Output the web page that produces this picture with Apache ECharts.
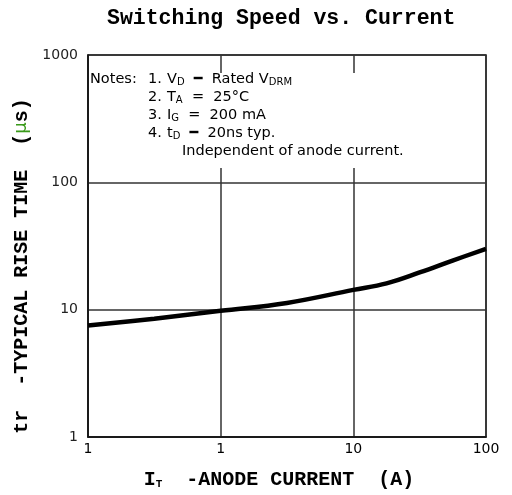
<!DOCTYPE html>
<html>
<head>
<meta charset="utf-8">
<script src="https://cdn.jsdelivr.net/npm/echarts@6/dist/echarts.min.js"></script>
<style>
  html, body { margin: 0; padding: 0; background: #fff; }
  #chart { width: 512px; height: 495px; }
</style>
</head>
<body>
<div id="chart"></div>
<script>
// anode current (A) / typical rise time (us)
const currentA = [0.1, 0.316, 1, 3.16, 10, 17.8, 31.6, 56, 100];
const riseTime = [7.5, 8.5, 9.8, 11.3, 14.3, 16.1, 19.6, 24.3, 30];
// tick labels as printed on the sheet
const xTickLabels = { '0.1': '1', '1': '1', '10': '10', '100': '100' };
const yTickLabels = ['1', '10', '100', '1000'];

const chart = echarts.init(document.getElementById('chart'));

const monoBold = 'Liberation Mono';
const noteFont = 'DejaVu Sans';

// notes block: [x, y, text]
const notes = [
  [90, 79, 'Notes:'],
  [148, 79, '1.'],
  [167, 79, 'V{s|D}  ━  Rated V{s|DRM}'],
  [148, 97, '2.'],
  [167, 97, 'T{s|A}  =  25°C'],
  [148, 115, '3.'],
  [167, 115, 'I{s|G}  =  200 mA'],
  [148, 133, '4.'],
  [167, 133, 't{s|D}  ━  20ns typ.'],
  [182, 151, 'Independent of anode current.']
];

chart.setOption({
  animation: false,
  title: {
    text: 'Switching Speed vs. Current',
    left: 102,
    top: 3,
    textStyle: {
      fontFamily: monoBold,
      fontWeight: 'bold',
      fontSize: 21.5,
      color: '#000'
    }
  },
  grid: {
    left: 88, right: 26, top: 55, bottom: 51,
    show: true,
    borderColor: '#111',
    borderWidth: 1.5
  },
  xAxis: {
    type: 'log',
    logBase: 10,
    min: 0.1,
    max: 100,
    name: '{b|I}{s|T}{b|  -ANODE CURRENT  (A)}',
    nameLocation: 'middle',
    nameGap: 32,
    nameTextStyle: {
      padding: [0, 16, 0, 0],
      rich: {
        b: { fontFamily: monoBold, fontWeight: 'bold', fontSize: 20, color: '#000' },
        s: { fontFamily: monoBold, fontWeight: 'bold', fontSize: 11, color: '#000', padding: [10, 0, 0, 0] }
      }
    },
    axisLine: { lineStyle: { color: '#111', width: 1.5 } },
    axisTick: { show: false },
    axisLabel: {
      margin: 5,
      fontFamily: noteFont,
      fontSize: 14,
      color: '#000',
      formatter: function (v) {
        const key = String(+v.toPrecision(3));
        return xTickLabels[key] !== undefined ? xTickLabels[key] : '';
      }
    },
    splitLine: { show: true, lineStyle: { color: '#333', width: 1.5 } }
  },
  yAxis: {
    type: 'log',
    logBase: 10,
    min: 1,
    max: 1000,
    name: '{b|tr  -TYPICAL RISE TIME  (}{g|µ}{b|s)}',
    nameLocation: 'middle',
    nameRotate: 90,
    nameGap: 56,
    nameTextStyle: {
      padding: [0, 0, 0, -40],
      rich: {
        b: { fontFamily: monoBold, fontWeight: 'bold', fontSize: 20, color: '#000' },
        g: { fontFamily: noteFont, fontSize: 18, color: '#3a9a1a' }
      }
    },
    axisLine: { lineStyle: { color: '#111', width: 1.5 } },
    axisTick: { show: false },
    axisLabel: {
      margin: 10,
      fontFamily: noteFont,
      fontSize: 14,
      color: '#222',
      formatter: function (v) {
        const i = Math.round(Math.log10(v));
        return yTickLabels[i] || '';
      }
    },
    splitLine: { show: true, lineStyle: { color: '#333', width: 1.5 } }
  },
  series: [{
    type: 'line',
    data: currentA.map((x, i) => [x, riseTime[i]]),
    smooth: 0.4,
    showSymbol: false,
    lineStyle: { color: '#000', width: 4.5 },
    z: 3
  }],
  graphic: [
    {
      type: 'rect',
      shape: { x: 89, y: 73, width: 396, height: 95 },
      style: { fill: '#fff' },
      z: 10
    }
  ].concat(notes.map(n => ({
    type: 'text',
    x: n[0],
    y: n[1],
    z: 11,
    style: {
      text: n[2],
      fill: '#000',
      font: '14.5px "DejaVu Sans"',
      verticalAlign: 'middle',
      rich: {
        s: { fontSize: 10, fontFamily: noteFont, padding: [6, 0, 0, 0] }
      }
    }
  })))
});
</script>
</body>
</html>
